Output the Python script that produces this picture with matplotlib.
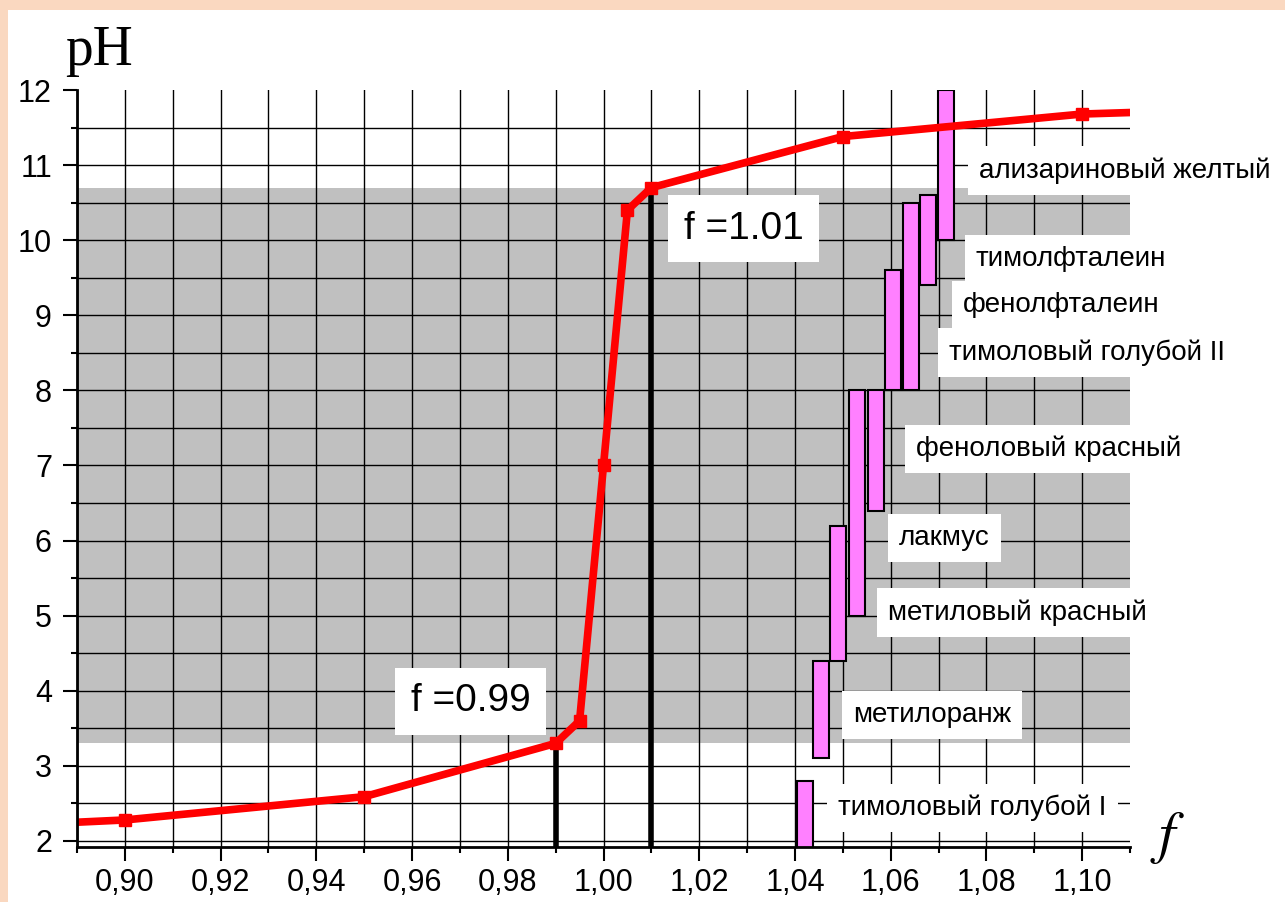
# Import libraries
import matplotlib
matplotlib.use("Agg")
import matplotlib.pyplot as plt
from matplotlib.patches import Rectangle

# Titration curve (f, pH)
f_curve = [0.89, 0.90, 0.95, 0.99, 0.995, 1.00, 1.005, 1.01, 1.05, 1.10, 1.11]
ph_curve = [2.25, 2.28, 2.59, 3.30, 3.60, 7.00, 10.40, 10.70, 11.38, 11.68, 11.70]

# Equivalence interval marks
f_marks = [0.99, 1.01]
ph_marks = [3.30, 10.70]
mark_labels = ["f =0.99", "f =1.01"]
mark_label_f = [0.9722, 1.0293]
mark_label_ph = [3.86, 10.15]

# Indicators: transition interval (pH low, pH high)
indicators = ["тимоловый голубой I", "метилоранж", "метиловый красный", "лакмус",
              "феноловый красный", "тимоловый голубой II", "фенолфталеин",
              "тимолфталеин", "ализариновый желтый"]
ph_low = [1.2, 3.1, 4.4, 5.0, 6.4, 8.0, 8.0, 9.4, 10.0]
ph_high = [2.8, 4.4, 6.2, 8.0, 8.0, 9.6, 10.5, 10.6, 12.0]
bar_f = [1.0404, 1.0437, 1.0473, 1.0513, 1.0552, 1.0588, 1.0626, 1.0661, 1.0699]
label_f = [1.0490, 1.0521, 1.0594, 1.0617, 1.0653, 1.0722, 1.0751, 1.0778, 1.0785]
label_ph = [2.44, 3.68, 5.04, 6.03, 7.22, 8.50, 9.14, 9.75, 10.93]

# Axis ticks
x_ticks = [0.90, 0.92, 0.94, 0.96, 0.98, 1.00, 1.02, 1.04, 1.06, 1.08, 1.10]
x_tick_labels = ["0,90", "0,92", "0,94", "0,96", "0,98", "1,00", "1,02", "1,04", "1,06", "1,08", "1,10"]
y_ticks = [2, 3, 4, 5, 6, 7, 8, 9, 10, 11, 12]

# Shaded jump region
jump_low, jump_high = 3.30, 10.70

plt.rcParams["font.family"] = ["Liberation Sans", "DejaVu Sans"]
plt.rcParams["mathtext.fontset"] = "stix"

fig = plt.figure(figsize=(12.85, 9.02), dpi=100, facecolor="#FAD8C0")
fig.patches.append(Rectangle((8 / 1285, 0), 1, 1 - 10 / 902, transform=fig.transFigure,
                             facecolor="white", edgecolor="none", zorder=-10))
ax = fig.add_axes([77 / 1285, 55 / 902, 1053 / 1285, 757 / 902])
ax.set_xlim(0.89, 1.11)
ax.set_ylim(1.92, 12)

# Gray band
ax.axhspan(jump_low, jump_high, color="#C0C0C0", zorder=0, lw=0)

# Grid
for x in range(89, 111):
    ax.axvline(x / 100, color="black", lw=1.0, zorder=1)
for k in range(4, 24):
    ax.axhline(k / 2, color="black", lw=1.0, zorder=1)

# Label boxes
for name, fx, py in zip(indicators, label_f, label_ph):
    ax.text(fx, py, name, fontsize=20, ha="left", va="center", zorder=3,
            bbox=dict(boxstyle="square,pad=0.4", fc="white", ec="none"))

# Indicator bars
ax.bar(bar_f, [h - l for l, h in zip(ph_low, ph_high)], bottom=ph_low, width=0.0034,
       align="edge", color="#FF80FF", edgecolor="black", lw=1.5, zorder=4)

# Vertical marks
for fx, py in zip(f_marks, ph_marks):
    ax.plot([fx, fx], [1.92, py], color="black", lw=4, zorder=5, solid_capstyle="butt")
for txt, fx, py in zip(mark_labels, mark_label_f, mark_label_ph):
    ax.text(fx, py, txt, fontsize=28, ha="center", va="center", zorder=3,
            bbox=dict(boxstyle="square,pad=0.4", fc="white", ec="none"))

# Curve
ax.plot(f_curve, ph_curve, color="red", lw=5.5, marker="s", markersize=9,
        markevery=list(range(1, len(f_curve) - 1)), zorder=6)

# Axes style
for side in ["top", "right"]:
    ax.spines[side].set_visible(False)
for side in ["left", "bottom"]:
    ax.spines[side].set_linewidth(2)
    ax.spines[side].set_zorder(7)
ax.set_xticks(x_ticks)
ax.set_xticklabels(x_tick_labels)
ax.set_xticks([x / 100 for x in range(89, 112, 2)], minor=True)
ax.set_yticks(y_ticks)
ax.set_yticks([k + 0.5 for k in range(2, 12)], minor=True)
ax.tick_params(which="major", length=10, width=1.5, labelsize=22, pad=8)
ax.tick_params(axis="x", which="major", pad=5)
ax.tick_params(which="minor", length=4, width=1.5)

fig.text(65 / 1285, 1 - 65 / 902, "pH", fontsize=40, family="Liberation Serif", va="baseline")
fig.text(1168 / 1285, 1 - 838 / 902, "$f$", fontsize=42, ha="center", va="center")

plt.savefig("out.png", dpi=100, facecolor=fig.get_facecolor())
